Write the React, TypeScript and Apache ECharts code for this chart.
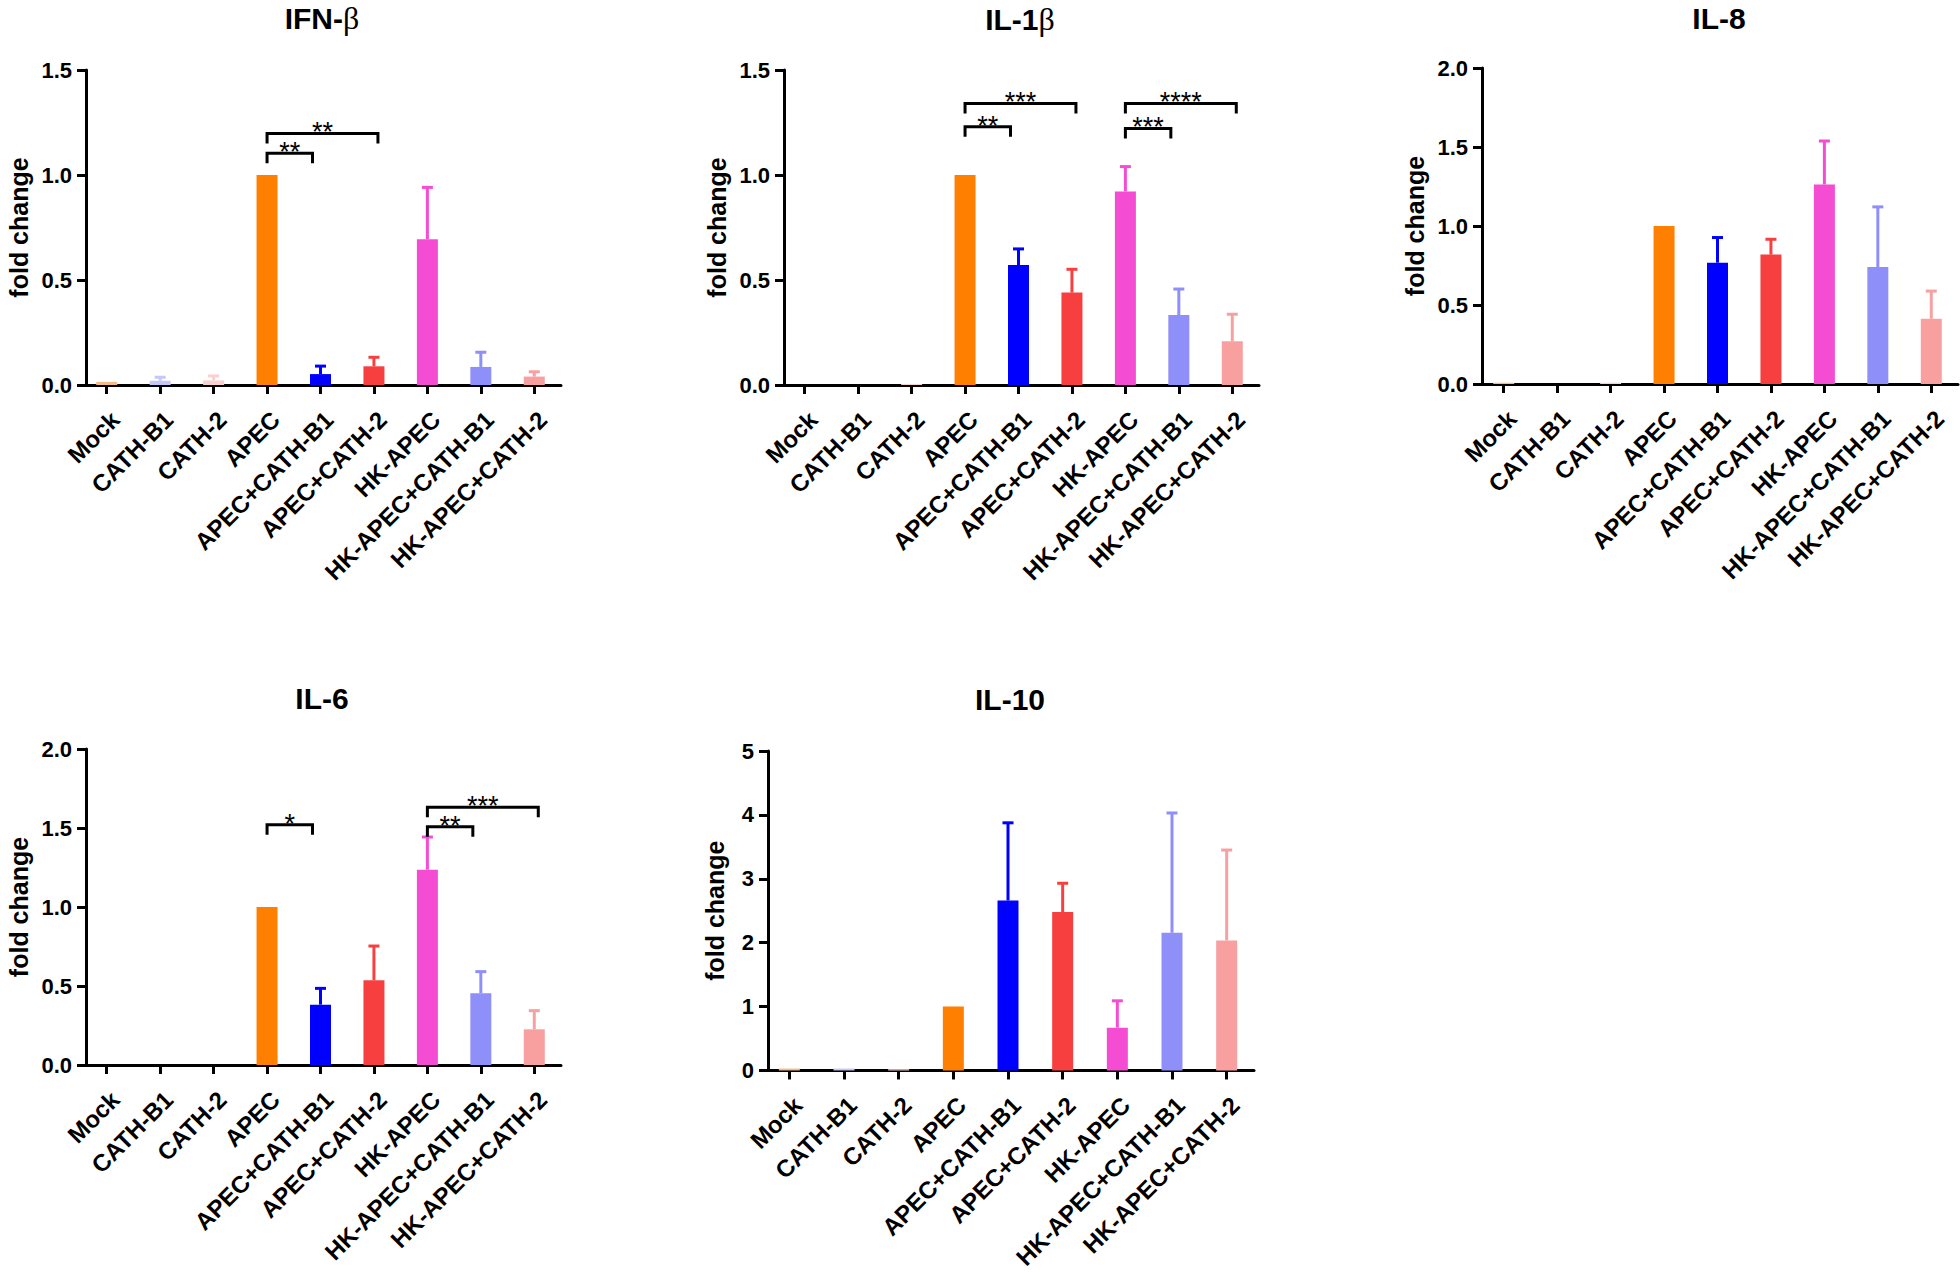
import React, { useEffect, useRef } from "react";
import * as echarts from "echarts";

const categories = [
  "Mock",
  "CATH-B1",
  "CATH-2",
  "APEC",
  "APEC+CATH-B1",
  "APEC+CATH-2",
  "HK-APEC",
  "HK-APEC+CATH-B1",
  "HK-APEC+CATH-2",
];
const barColors = [
  "#F2BC86",
  "#C6C6F8",
  "#F8D0D0",
  "#FF8000",
  "#0000FF",
  "#F83F3F",
  "#F44CD2",
  "#8F8FF9",
  "#F8A0A0",
];

// IFN-β
const ifnbMeans = [0.015, 0.02, 0.022, 1.0, 0.052, 0.089, 0.694, 0.086, 0.04];
const ifnbErrTops = [null, 0.037, 0.043, null, 0.09, 0.132, 0.941, 0.156, 0.063];
const ifnbBrackets: [number, number, number, string][] = [
  [3, 4, 1.103, "**"],
  [3, 5, 1.198, "**"],
];
const ifnbTicks = [0, 1.5, 0.5];

// IL-1β
const il1bMeans = [0, 0, 0.005, 1.0, 0.571, 0.44, 0.922, 0.333, 0.208];
const il1bErrTops = [null, null, null, null, 0.648, 0.551, 1.04, 0.457, 0.337];
const il1bBrackets: [number, number, number, string][] = [
  [3, 4, 1.23, "**"],
  [3, 5, 1.341, "***"],
  [6, 7, 1.222, "***"],
  [6, 8, 1.341, "****"],
];
const il1bTicks = [0, 1.5, 0.5];

// IL-8
const il8Means = [0.008, 0, 0.008, 1.0, 0.768, 0.819, 1.263, 0.74, 0.413];
const il8ErrTops = [null, null, null, null, 0.927, 0.916, 1.538, 1.121, 0.588];
const il8Brackets: [number, number, number, string][] = [];
const il8Ticks = [0, 2.0, 0.5];

// IL-6
const il6Means = [0, 0, 0, 1.0, 0.382, 0.536, 1.236, 0.454, 0.226];
const il6ErrTops = [null, null, null, null, 0.485, 0.753, 1.443, 0.591, 0.344];
const il6Brackets: [number, number, number, string][] = [
  [3, 4, 1.521, "*"],
  [6, 7, 1.508, "**"],
  [6, 8, 1.631, "***"],
];
const il6Ticks = [0, 2.0, 0.5];

// IL-10
const il10Means = [0.03, 0.03, 0.02, 1.0, 2.66, 2.48, 0.67, 2.155, 2.036];
const il10ErrTops = [null, null, null, null, 3.876, 2.93, 1.09, 4.03, 3.45];
const il10Brackets: [number, number, number, string][] = [];
const il10Ticks = [0, 5, 1];

const titleTexts = ["{a|IFN-}{b|β}", "{a|IL-1}{b|β}", "{a|IL-8}", "{a|IL-6}", "{a|IL-10}"];

const FONT = '"Liberation Sans", Arial, sans-serif';

export default function App() {
  const ref = useRef<HTMLDivElement>(null);

  useEffect(() => {
    if (!ref.current) return;
    const chart = echarts.init(ref.current, null, { renderer: "svg" });

    const panels = [
      { means: ifnbMeans, tops: ifnbErrTops, brackets: ifnbBrackets, ticks: ifnbTicks, dec: 1 },
      { means: il1bMeans, tops: il1bErrTops, brackets: il1bBrackets, ticks: il1bTicks, dec: 1 },
      { means: il8Means, tops: il8ErrTops, brackets: il8Brackets, ticks: il8Ticks, dec: 1 },
      { means: il6Means, tops: il6ErrTops, brackets: il6Brackets, ticks: il6Ticks, dec: 1 },
      { means: il10Means, tops: il10ErrTops, brackets: il10Brackets, ticks: il10Ticks, dec: 0 },
    ];

    const grids = [
      { left: 80, top: 70, width: 481, height: 315 },
      { left: 778, top: 70, width: 481, height: 315 },
      { left: 1477, top: 68, width: 481, height: 316 },
      { left: 80, top: 749, width: 481, height: 316 },
      { left: 762, top: 751, width: 492, height: 322 },
    ];
    const yOffsets = [-6, -6, -5, -6, -6];
    const nameGaps = [55, 55, 55, 55, 41];
    const titlePos = [
      [322, 18],
      [1020, 19],
      [1719, 18],
      [322, 698],
      [1010, 699],
    ];

    const xAxes = grids.map((_, i) => ({
      type: "category",
      gridIndex: i,
      data: categories,
      axisLine: { lineStyle: { color: "#000", width: 3 } },
      axisTick: { show: true, alignWithLabel: true, length: 9, lineStyle: { color: "#000", width: 3 } },
      axisLabel: {
        interval: 0,
        rotate: 45,
        margin: 22,
        align: "right",
        verticalAlign: "top",
        color: "#000",
        fontSize: 24,
        fontWeight: "bold",
        fontFamily: FONT,
      },
      splitLine: { show: false },
    }));

    const yAxes = panels.map((p, i) => ({
      type: "value",
      gridIndex: i,
      offset: yOffsets[i],
      min: p.ticks[0],
      max: p.ticks[1],
      interval: p.ticks[2],
      name: "fold change",
      nameLocation: "middle",
      nameRotate: 90,
      nameGap: nameGaps[i],
      nameTextStyle: { color: "#000", fontSize: 25, fontWeight: "bold", fontFamily: FONT },
      axisLine: { show: true, lineStyle: { color: "#000", width: 3 } },
      axisTick: { show: true, length: 9, lineStyle: { color: "#000", width: 3 } },
      axisLabel: {
        margin: 14,
        color: "#000",
        fontSize: 22,
        fontWeight: "bold",
        fontFamily: FONT,
        formatter: (v: number) => v.toFixed(p.dec),
      },
      splitLine: { show: false },
    }));

    const series: any[] = [];
    panels.forEach((p, i) => {
      series.push({
        type: "bar",
        xAxisIndex: i,
        yAxisIndex: i,
        barWidth: 21,
        z: 2,
        data: p.means.map((v, k) => ({ value: v, itemStyle: { color: barColors[k] } })),
      });
      series.push({
        type: "custom",
        xAxisIndex: i,
        yAxisIndex: i,
        z: 3,
        data: p.tops
          .map((t, k) => (t == null ? null : [k, p.means[k], t]))
          .filter((d) => d !== null),
        renderItem: (params: any, api: any) => {
          const k = api.value(0);
          const p0 = api.coord([k, api.value(1)]);
          const p1 = api.coord([k, api.value(2)]);
          const color = barColors[k];
          return {
            type: "group",
            children: [
              {
                type: "line",
                shape: { x1: p0[0], y1: p0[1], x2: p1[0], y2: p1[1] },
                style: { stroke: color, lineWidth: 3 },
              },
              {
                type: "line",
                shape: { x1: p1[0] - 5.5, y1: p1[1], x2: p1[0] + 5.5, y2: p1[1] },
                style: { stroke: color, lineWidth: 3 },
              },
            ],
          };
        },
      });
      if (p.brackets.length) {
        series.push({
          type: "custom",
          xAxisIndex: i,
          yAxisIndex: i,
          z: 4,
          clip: false,
          data: p.brackets.map((b) => [b[0], b[2], b[1]]),
          renderItem: (params: any, api: any) => {
            const from = api.value(0);
            const to = api.value(2);
            const a = api.coord([from, api.value(1)]);
            const b = api.coord([to, api.value(1)]);
            const label = p.brackets[params.dataIndex][3];
            const drop = 10;
            const xr = b[0] + (to - from === 1 ? -8 : 4);
            return {
              type: "group",
              children: [
                {
                  type: "polyline",
                  shape: {
                    points: [
                      [a[0], a[1] + drop],
                      [a[0], a[1]],
                      [xr, a[1]],
                      [xr, a[1] + drop],
                    ],
                  },
                  style: { stroke: "#000", lineWidth: 3, fill: null },
                },
                {
                  type: "text",
                  x: (a[0] + xr) / 2,
                  y: a[1] - 1,
                  style: {
                    text: label,
                    fill: "#000",
                    font: `27px ${FONT}`,
                    align: "center",
                    verticalAlign: "middle",
                    textAlign: "center",
                    textVerticalAlign: "middle",
                  },
                },
              ],
            };
          },
        });
      }
    });

    const graphic = titleTexts.map((t, i) => ({
      type: "text",
      x: titlePos[i][0],
      y: titlePos[i][1],
      style: {
        text: t,
        align: "center",
        verticalAlign: "middle",
        textAlign: "center",
        textVerticalAlign: "middle",
        rich: {
          a: { fontSize: 30, fontWeight: "bold", fontFamily: FONT, fill: "#000", color: "#000" },
          b: { fontSize: 32, fontWeight: "normal", fontFamily: '"Liberation Serif", serif', fill: "#000", color: "#000" },
        },
      },
    }));

    chart.setOption({
      animation: false,
      backgroundColor: "#fff",
      grid: grids.map((g) => ({ ...g, containLabel: false })),
      xAxis: xAxes,
      yAxis: yAxes,
      series,
      graphic,
    });

    return () => chart.dispose();
  }, []);

  return (
    <div
      ref={ref}
      style={{ position: "absolute", left: 0, top: 0, width: 1960, height: 1272, background: "#fff" }}
    />
  );
}
